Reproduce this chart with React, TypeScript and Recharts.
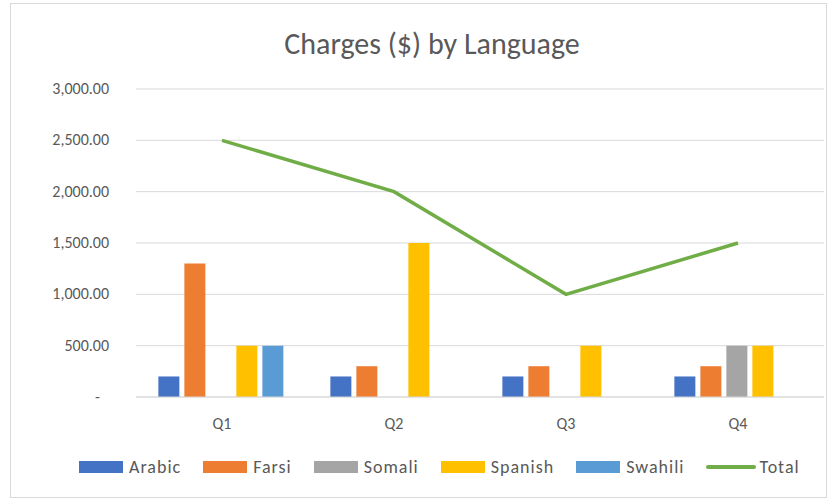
import React from 'react';
import {
    ComposedChart,
    Bar,
    Line,
    XAxis,
    YAxis,
    CartesianGrid,
} from 'recharts';

const quarters = ['Q1', 'Q2', 'Q3', 'Q4'];
const arabic = [200, 200, 200, 200];
const farsi = [1300, 300, 300, 300];
const somali = [0, 0, 0, 500];
const spanish = [500, 1500, 500, 500];
const swahili = [500, 0, 0, 0];
const total = [2500, 2000, 1000, 1500];
const yTicks = [0, 500, 1000, 1500, 2000, 2500, 3000];

const SERIES = [
    { key: 'Arabic', color: '#4472C4' },
    { key: 'Farsi', color: '#ED7D31' },
    { key: 'Somali', color: '#A5A5A5' },
    { key: 'Spanish', color: '#FFC000' },
    { key: 'Swahili', color: '#5B9BD5' },
];
const TOTAL_COLOR = '#70AD47';
const FONT = "'Liberation Sans Narrow', Carlito, 'Open Sans', sans-serif";
const TEXT = '#595959';

const data = quarters.map((q, i) => ({
    q,
    Arabic: arabic[i],
    Farsi: farsi[i],
    Somali: somali[i],
    Spanish: spanish[i],
    Swahili: swahili[i],
    Total: total[i],
}));

const fmt = (v: number) =>
    v === 0 ? '-' : v.toLocaleString('en-US', { minimumFractionDigits: 2, maximumFractionDigits: 2 });

function YTick(props: any) {
    const { y, payload } = props;
    const zero = payload.value === 0;
    return (
        <text x={zero ? 100 : 109} y={y} dy={5} textAnchor="end" fill={TEXT} fontSize={16} fontFamily={FONT}>
            {fmt(payload.value)}
        </text>
    );
}

export default function App() {
    return (
        <div style={{ position: 'absolute', left: 0, top: 0, width: 828, height: 500, background: '#fff' }}>
            <div style={{ position: 'absolute', left: 10, top: 3, width: 815, height: 493, border: '1px solid #d9d9d9' }} />
            <div style={{ position: 'absolute', left: 0, top: 25, width: 864, textAlign: 'center', fontSize: 30, color: TEXT, fontFamily: FONT }}>
                Charges ($) by Language
            </div>
            <ComposedChart
                width={828}
                height={500}
                data={data}
                margin={{ top: 89, right: 4, left: 0, bottom: 73 }}
                barCategoryGap="13%"
                barGap={5}
                style={{ position: 'absolute', left: 0, top: 0 }}
            >
                <CartesianGrid vertical={false} stroke="#d9d9d9" strokeWidth={1} />
                <XAxis
                    dataKey="q"
                    axisLine={{ stroke: '#d9d9d9' }}
                    tickLine={false}
                    height={30}
                    tick={{ fontSize: 16, fill: TEXT, fontFamily: FONT }}
                    dy={13}
                />
                <YAxis
                    width={136}
                    domain={[0, 3000]}
                    ticks={yTicks}
                    axisLine={false}
                    tickLine={false}
                    tick={<YTick />}
                />
                {SERIES.map((s) => (
                    <Bar key={s.key} dataKey={s.key} fill={s.color} isAnimationActive={false} />
                ))}
                <Line
                    dataKey="Total"
                    stroke={TOTAL_COLOR}
                    strokeWidth={3.5}
                    dot={false}
                    type="linear"
                    isAnimationActive={false}
                />
            </ComposedChart>
            <div
                style={{
                    position: 'absolute',
                    left: 79,
                    top: 456,
                    display: 'flex',
                    alignItems: 'center',
                    fontSize: 18,
                    letterSpacing: 1,
                    color: TEXT,
                    fontFamily: FONT,
                }}
            >
                {SERIES.map((s) => (
                    <div key={s.key} style={{ display: 'flex', alignItems: 'center', marginRight: 22 }}>
                        <div style={{ width: 44, height: 12, background: s.color, marginRight: 6 }} />
                        <span>{s.key}</span>
                    </div>
                ))}
                <div style={{ display: 'flex', alignItems: 'center' }}>
                    <div style={{ width: 50, height: 4, borderRadius: 2, background: TOTAL_COLOR, marginRight: 3 }} />
                    <span>Total</span>
                </div>
            </div>
        </div>
    );
}
